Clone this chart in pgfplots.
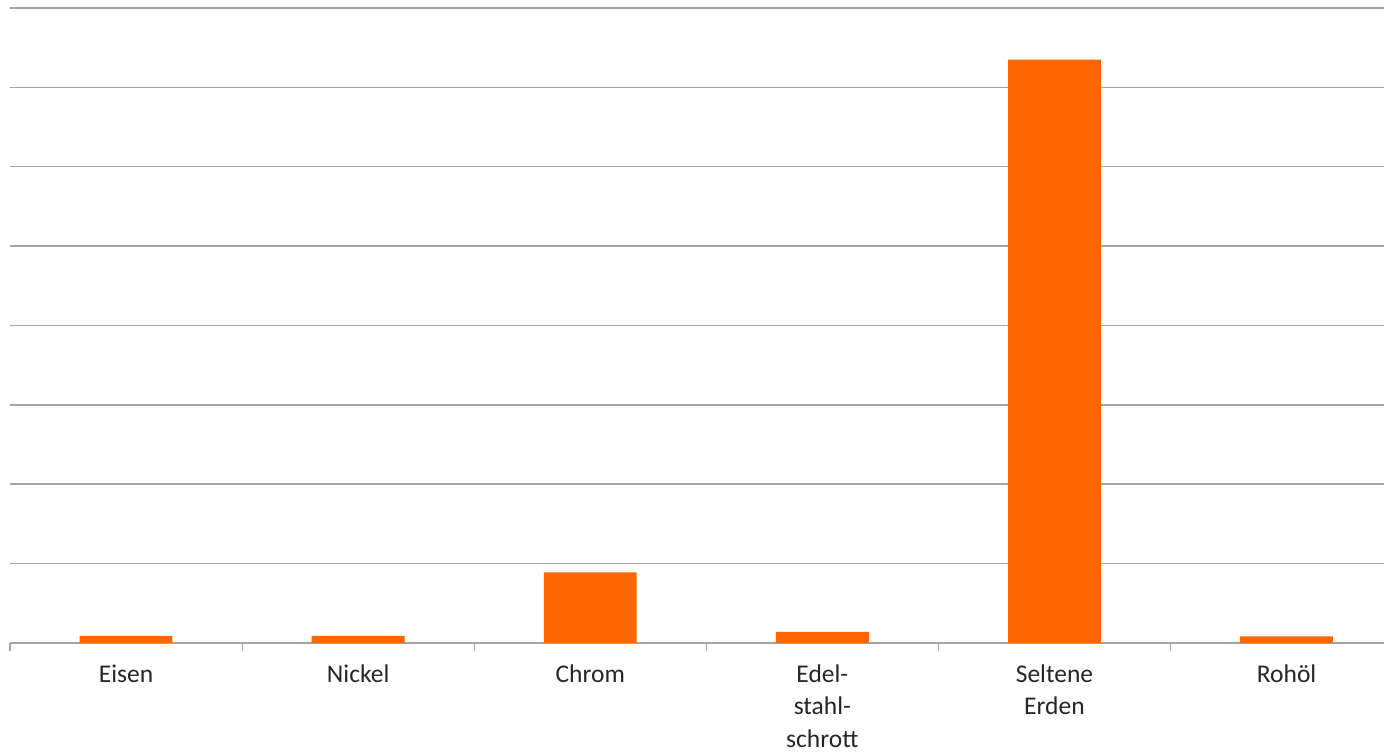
\documentclass[border=0pt]{standalone}
\usepackage{pgfplots}
\pgfplotsset{compat=1.18}
\usepackage{fontspec}
\setmainfont{Carlito}
\definecolor{barorange}{RGB}{255,102,0}
\definecolor{gridgray}{RGB}{165,165,165}
\begin{document}
\begin{tikzpicture}
\useasboundingbox (0,0) rectangle (1384pt,754pt);
\clip (0,0) rectangle (1384pt,754pt);
\begin{axis}[
  at={(10pt,111pt)}, anchor=south west,
  scale only axis,
  width=1374pt, height=635pt,
  xmin=-0.5, xmax=5.42,
  ymin=0, ymax=8,
  ytick={0,1,...,8},
  yticklabels={},
  ymajorgrids=true,
  grid style={gridgray, line width=1.5pt},
  axis lines*=left,
  y axis line style={draw=none},
  x axis line style={gridgray, line width=1.5pt, -},
  major y tick style={draw=none},
  xtick={0,1,2,3,4,5},
  xticklabels={Eisen, Nickel, Chrom, {Edel-\\stahl-\\schrott}, {Seltene\\Erden}, Rohöl},
  xticklabel style={align=center, font=\fontsize{25.5}{32.5}\selectfont, inner sep=0pt, yshift=-17pt, text=black!85},
  major x tick style={draw=none},
  minor xtick={-0.5,0.5,1.5,2.5,3.5,4.5},
  minor x tick style={gridgray, line width=1.2pt},
  minor tick length=8pt,
  tick align=outside,
  xtick pos=bottom,
  ytick pos=left,
]
\addplot[ybar, bar width=0.4, fill=barorange, draw=none] coordinates {
  (0,0.09) (1,0.09) (2,0.89) (3,0.14) (4,7.35) (5,0.085)
};
\end{axis}
\end{tikzpicture}
\end{document}
